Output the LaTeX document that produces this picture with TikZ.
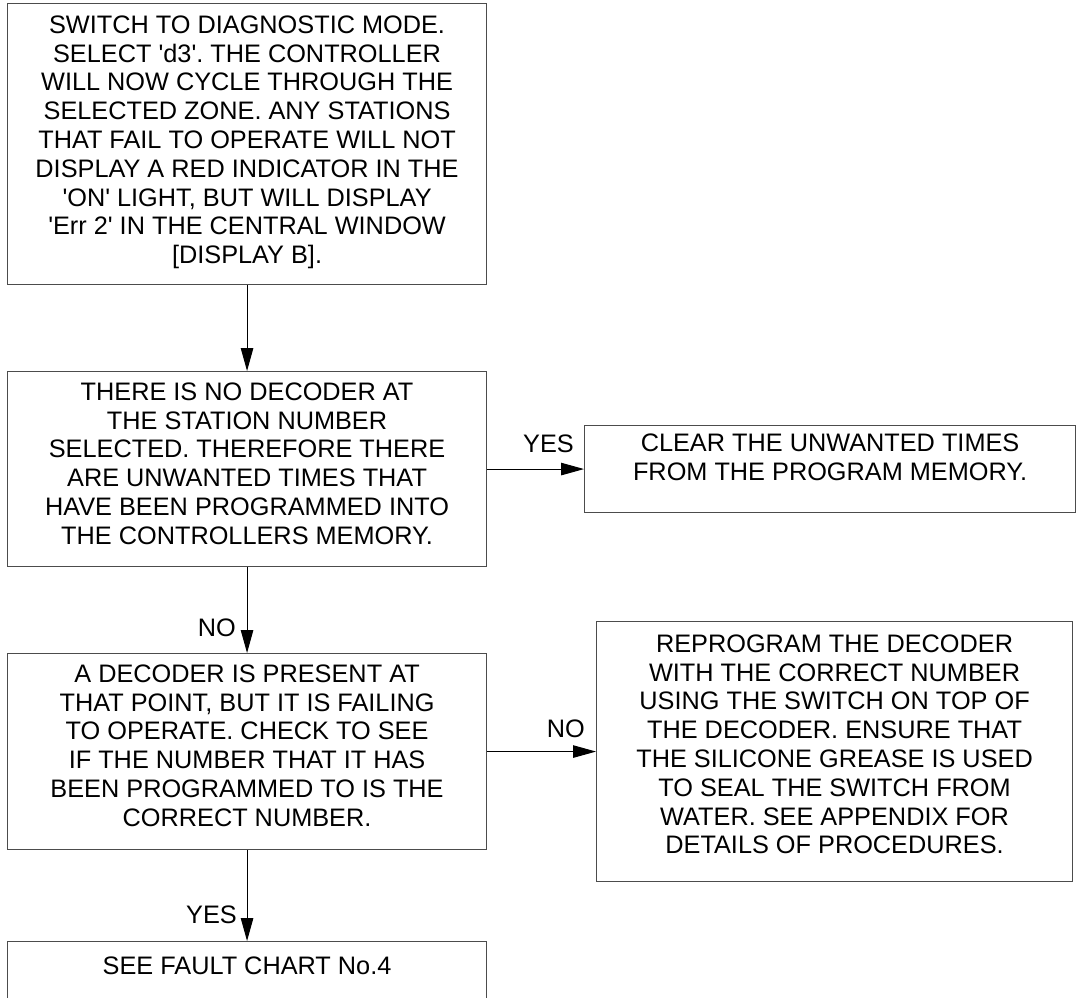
\documentclass[tikz,border=0pt]{standalone}
\usepackage{fontspec}
\setmainfont{Liberation Sans}
\usetikzlibrary{arrows.meta}
\frenchspacing

% box body: width, height, top padding, lines
\newcommand\boxbody[4]{\parbox[c][#2][t]{#1}{\centering\vspace*{#3}#4\par}}
\newcommand\sq{\textquotesingle}

\tikzset{
  stepbox/.style={draw=black!70, line width=1.1pt, inner sep=0pt, anchor=north west},
  flow/.style={draw=black, line width=1pt, -{Triangle[length=23pt,width=12.5pt]}},
  tag/.style={inner sep=0pt, anchor=base east},
  every node/.style={font=\fontsize{25.3}{28.8}\selectfont}
}

\begin{document}
\begin{tikzpicture}[x=1pt, y=-1pt]
\clip (0,0) rectangle (1076,997);

\node[stepbox] (b1) at (7,3) {\boxbody{479pt}{281pt}{12pt}{%
SWITCH TO DIAGNOSTIC MODE.\\
SELECT \sq d3\sq. THE CONTROLLER\\
WILL NOW CYCLE THROUGH THE\\
SELECTED ZONE. ANY STATIONS\\
THAT FAIL TO OPERATE WILL NOT\\
DISPLAY A RED INDICATOR IN THE\\
\sq ON\sq\ LIGHT, BUT WILL DISPLAY\\
\sq Err 2\sq\ IN THE CENTRAL WINDOW\\
{[}DISPLAY B{]}.}};

\node[stepbox] (b2) at (7,371) {\boxbody{479pt}{195pt}{11pt}{%
THERE IS NO DECODER AT\\
THE STATION NUMBER\\
SELECTED. THEREFORE THERE\\
ARE UNWANTED TIMES THAT\\
HAVE BEEN PROGRAMMED INTO\\
THE CONTROLLERS MEMORY.}};

\node[stepbox] (b3) at (584,425) {\boxbody{491pt}{87pt}{8pt}{%
CLEAR THE UNWANTED TIMES\\
FROM THE PROGRAM MEMORY.}};

\node[stepbox] (b4) at (7,653) {\boxbody{479pt}{196pt}{11pt}{%
A DECODER IS PRESENT AT\\
THAT POINT, BUT IT IS FAILING\\
TO OPERATE. CHECK TO SEE\\
IF THE NUMBER THAT IT HAS\\
BEEN PROGRAMMED TO IS THE\\
CORRECT NUMBER.}};

\node[stepbox] (b5) at (596,621) {\boxbody{476pt}{260pt}{13pt}{%
REPROGRAM THE DECODER\\
WITH THE CORRECT NUMBER\\
USING THE SWITCH ON TOP OF\\
THE DECODER. ENSURE THAT\\
THE SILICONE GREASE IS USED\\
TO SEAL THE SWITCH FROM\\
WATER. SEE APPENDIX FOR\\
DETAILS OF PROCEDURES.}};

\node[stepbox] (b6) at (7,941) {\boxbody{479pt}{90pt}{15pt}{%
SEE FAULT CHART No.4}};

% connectors
\draw[flow] (b1.south) -- (b2.north);
\draw[flow] (b2.east) -- (b2.east -| b3.west);
\draw[flow] (b2.south) -- (b4.north);
\draw[flow] (b4.east) -- (b4.east -| b5.west);
\draw[flow] (b4.south) -- (b6.north);

% branch labels
\node[tag] (yes1) at (574,452) {YES};
\node[tag] (no1) at (236,636) {NO};
\node[tag] (no2) at (585,737) {NO};
\node[tag] (yes2) at (237,923) {YES};
\end{tikzpicture}
\end{document}
